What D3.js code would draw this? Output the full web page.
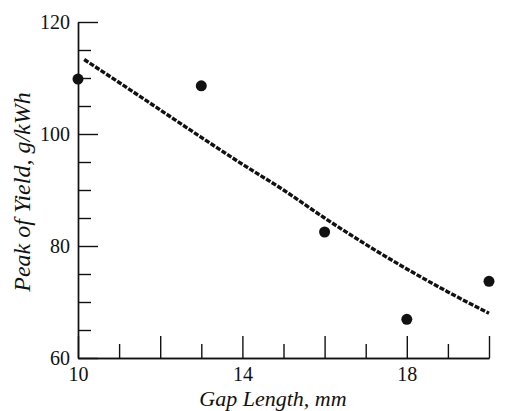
<!DOCTYPE html>
<html>
<head>
<meta charset="utf-8">
<script src="https://cdn.jsdelivr.net/npm/d3@7"></script>
<style>
  body { margin: 0; background: #fff; }
  svg { display: block; font-family: "Liberation Serif", "DejaVu Serif", serif; }
  .axis path, .axis line { stroke: #111; stroke-width: 1.4; }
  .axis text { font-size: 20px; fill: #111; font-family: "Liberation Serif", serif; }
  .title { font-size: 22px; font-style: italic; fill: #111; }
</style>
</head>
<body>
<svg id="chart" width="512" height="411"></svg>
<script>
// measured points (gap length mm, peak yield g/kWh)
var gapLength = [10, 13, 16, 18, 20];
var peakYield = [109.8, 108.6, 82.5, 66.9, 73.7];

// fitted curve
var fitX = [10.15, 11, 12, 13, 14, 15, 16, 17, 18, 19, 20];
var fitY = [113.3, 109.2, 104.3, 99.4, 94.6, 90.0, 85.0, 80.3, 75.9, 71.8, 68.0];

var xMajor = [10, 12, 14, 16, 18, 20];
var xMinor = [11, 13, 15, 17, 19];
var xLabels = [10, 14, 18];
var yMajor = [60, 80, 100, 120];
var yMinor = [65, 70, 75, 85, 90, 95, 105, 110, 115];

var svg = d3.select("#chart");

var x = d3.scaleLinear().domain([10, 20]).range([78, 489]);
var y = d3.scaleLinear().domain([60, 120]).range([358, 22]);

// x axis - ticks point up into the plot
svg.append("g")
    .attr("class", "axis")
    .attr("transform", "translate(0,358)")
    .call(d3.axisBottom(x).tickValues(xMinor).tickSize(-14).tickSizeOuter(0).tickFormat(""));

svg.append("g")
    .attr("class", "axis")
    .attr("transform", "translate(0,358)")
    .call(d3.axisBottom(x).tickValues(xMajor).tickSize(-22).tickSizeOuter(0).tickPadding(9)
        .tickFormat(function (d) { return xLabels.indexOf(d) >= 0 ? d : ""; }));

// y axis - ticks point right
svg.append("g")
    .attr("class", "axis")
    .attr("transform", "translate(78,0)")
    .call(d3.axisLeft(y).tickValues(yMinor).tickSize(-13).tickSizeOuter(0).tickFormat(""));

svg.append("g")
    .attr("class", "axis")
    .attr("transform", "translate(78,0)")
    .call(d3.axisLeft(y).tickValues(yMajor).tickSize(-20).tickSizeOuter(0).tickPadding(8));

// fitted line, dotted
var fit = fitX.map(function (d, i) { return [d, fitY[i]]; });
var line = d3.line()
    .x(function (d) { return x(d[0]); })
    .y(function (d) { return y(d[1]); })
    .curve(d3.curveMonotoneX);

svg.append("path")
    .datum(fit)
    .attr("d", line)
    .attr("fill", "none")
    .attr("stroke", "#111")
    .attr("stroke-width", 3.4)
    .attr("stroke-dasharray", "5,1.6");

// data points
svg.selectAll("circle.pt")
    .data(gapLength)
    .enter().append("circle")
    .attr("class", "pt")
    .attr("cx", function (d) { return x(d); })
    .attr("cy", function (d, i) { return y(peakYield[i]); })
    .attr("r", 5.5)
    .attr("fill", "#111");

// axis titles
svg.append("text")
    .attr("class", "title")
    .attr("x", 273)
    .attr("y", 406)
    .attr("text-anchor", "middle")
    .text("Gap Length, mm");

svg.append("text")
    .attr("class", "title")
    .attr("transform", "translate(30,192) rotate(-90)")
    .attr("text-anchor", "middle")
    .style("font-size", "24px")
    .text("Peak of Yield, g/kWh");
</script>
</body>
</html>
